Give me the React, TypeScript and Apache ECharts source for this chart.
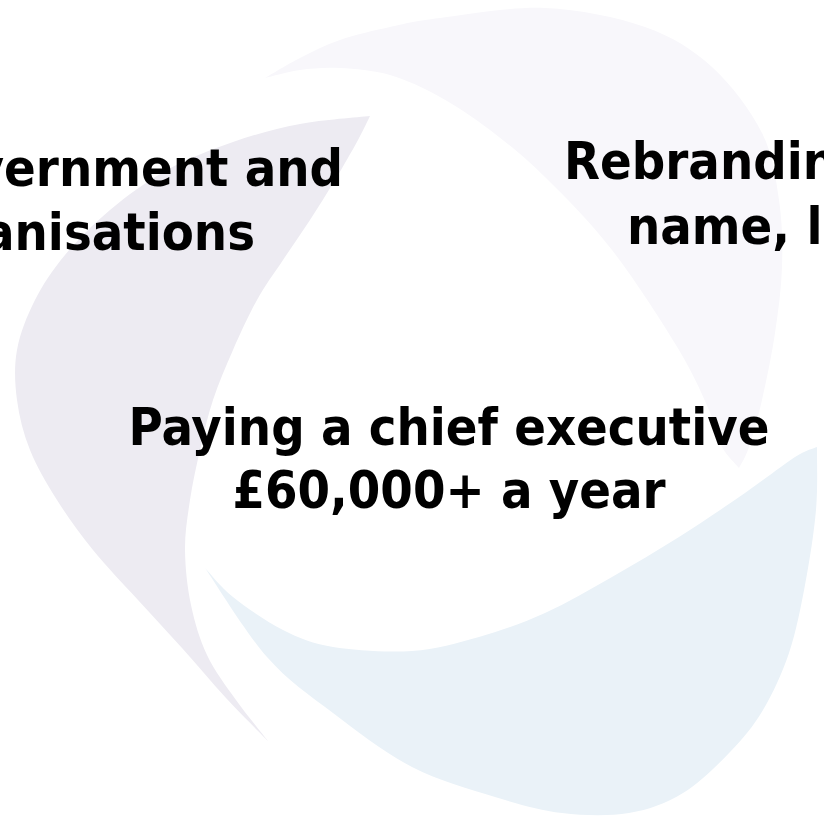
import React, { useEffect, useRef } from "react";
import * as echarts from "echarts";

// Slide texts (each entry is one visible line)
const leftLines = ["Government and", "organisations"];
const rightLines = ["Rebranding", "name, logo"];
const centreLines = ["Paying a chief executive", "£60,000+ a year"];

// Background swirl outlines (decorative logo): outer edge then inner edge
const lavenderOuter: number[][] = [[370,116],[300,124],[233,142],[167,170],[110,210],[65,255],[35,300],[17,350],[17,400],[30,450],[57,500],[93,550],[138,600],[182,648],[226,698],[268,741]];
const lavenderInner: number[][] = [[268,741],[236,700],[207,655],[191,605],[185,550],[190,500],[200,450],[213,400],[233,350],[257,300],[283,260],[310,220],[335,180],[358,140],[370,116]];
const greyOuter: number[][] = [[265,78],[300,58],[340,40],[390,27],[440,18],[545,8],[645,27],[712,67],[762,133],[779,200],[782,267],[775,333],[762,400],[749,447],[739,468]];
const greyInner: number[][] = [[739,468],[722,447],[712,417],[679,350],[612,250],[545,177],[490,130],[440,97],[390,75],[340,68],[300,70],[265,78]];
const blueOuter: number[][] = [[817,447],[816,510],[805,585],[789,653],[763,710],[730,752],[683,793],[629,813],[562,813],[495,797],[412,767],[333,713],[267,657],[205,568]];
const blueInner: number[][] = [[205,568],[233,597],[283,630],[333,647],[412,651],[479,637],[545,613],[612,577],[679,537],[745,493],[795,457],[817,447]];

function curve(pts: number[][]): string {
  let d = "";
  const n = pts.length;
  for (let i = 0; i < n - 1; i++) {
    const p0 = pts[Math.max(0, i - 1)];
    const p1 = pts[i];
    const p2 = pts[i + 1];
    const p3 = pts[Math.min(n - 1, i + 2)];
    const c1x = p1[0] + (p2[0] - p0[0]) / 6;
    const c1y = p1[1] + (p2[1] - p0[1]) / 6;
    const c2x = p2[0] - (p3[0] - p1[0]) / 6;
    const c2y = p2[1] - (p3[1] - p1[1]) / 6;
    d += ` C${c1x.toFixed(1)},${c1y.toFixed(1)} ${c2x.toFixed(1)},${c2y.toFixed(1)} ${p2[0]},${p2[1]}`;
  }
  return d;
}

function shapePath(outer: number[][], inner: number[][]): string {
  return `M${outer[0][0]},${outer[0][1]}` + curve(outer) + curve(inner) + " Z";
}

let registered = false;
function registerShapes() {
  if (registered) return;
  registered = true;
  echarts.graphic.registerShape("swirlLavender", echarts.graphic.extendPath(shapePath(lavenderOuter, lavenderInner), {}));
  echarts.graphic.registerShape("swirlGrey", echarts.graphic.extendPath(shapePath(greyOuter, greyInner), {}));
  echarts.graphic.registerShape("swirlBlue", echarts.graphic.extendPath(shapePath(blueOuter, blueInner), {}));
}

const FONT = "bold 52px 'DejaVu Sans Condensed', 'DejaVu Sans', sans-serif";

export default function App() {
  const ref = useRef<HTMLDivElement>(null);
  useEffect(() => {
    document.body.style.margin = "0";
    registerShapes();
    const chart = echarts.init(ref.current!, undefined, { renderer: "svg" });
    const textEl = (text: string, x: number, y: number, align: string) => ({
      type: "text",
      x,
      y,
      z: 10,
      style: { text, font: FONT, fill: "#000000", textAlign: align, textVerticalAlign: "middle" },
    });
    chart.setOption({
      animation: false,
      backgroundColor: "#ffffff",
      graphic: {
        elements: [
          { type: "swirlGrey", x: 0, y: 0, z: 1, style: { fill: "#F8F7FB" } },
          { type: "swirlLavender", x: 0, y: 0, z: 2, style: { fill: "#EDEBF2" } },
          { type: "swirlBlue", x: 0, y: 0, z: 3, style: { fill: "#EAF2F8" } },
          textEl(leftLines[0], 343, 168, "right"),
          textEl(leftLines[1], 255, 232, "right"),
          textEl(rightLines[0], 564, 161, "left"),
          textEl(rightLines[1], 627, 226, "left"),
          textEl(centreLines[0], 449, 427, "center"),
          textEl(centreLines[1], 449, 490, "center"),
        ],
      },
    });
    return () => chart.dispose();
  }, []);
  return <div ref={ref} style={{ width: 824, height: 818 }} />;
}
